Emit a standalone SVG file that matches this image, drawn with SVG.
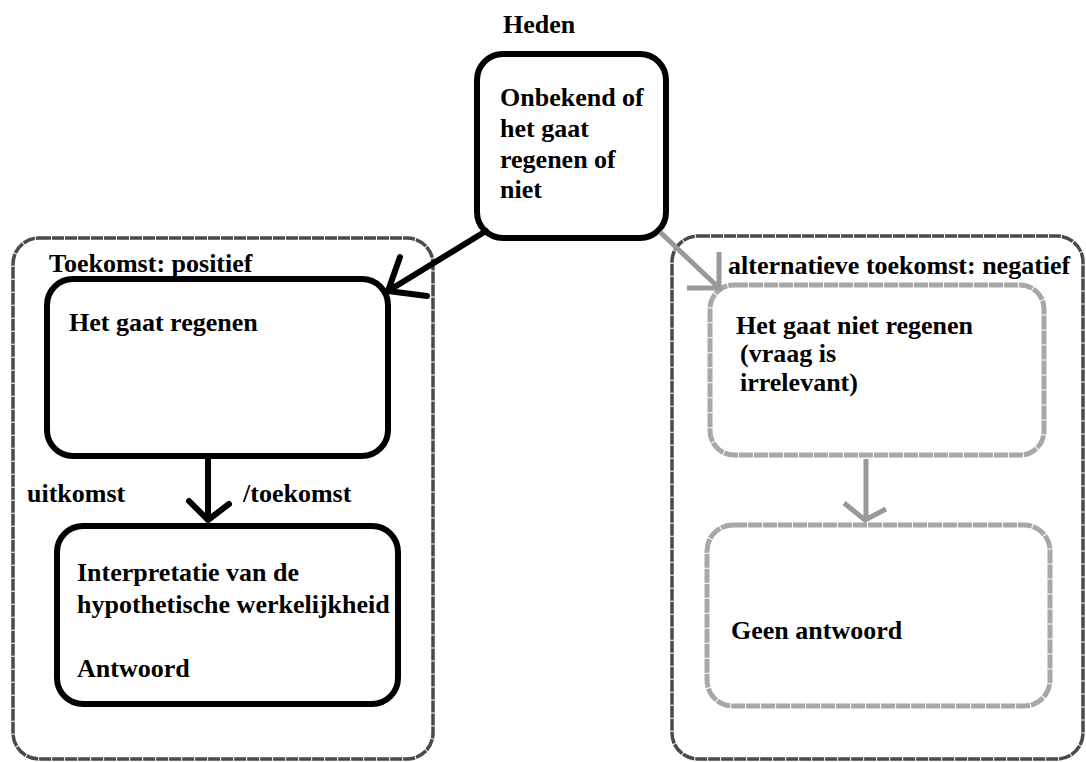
<svg xmlns="http://www.w3.org/2000/svg" width="1086" height="762" viewBox="0 0 1086 762">
<style>
text{font-family:"Liberation Serif","Times New Roman",serif;font-weight:bold;font-size:26px;fill:#000}
.outer{fill:none;stroke:#4a4a4a;stroke-width:3.5;stroke-dasharray:12 1}
.blk{fill:#fff;stroke:#000;stroke-width:6}
.gry{fill:#fff;stroke:#a8a8a8;stroke-width:5;stroke-dasharray:14 1}
.cb{fill:none;stroke:#000;stroke-width:6;stroke-linecap:round;stroke-linejoin:round}
.cg{fill:none;stroke:#999;stroke-width:5;stroke-linecap:butt}
</style>
<rect width="1086" height="762" fill="#fff"/>
<g id="container-left">
<rect class="outer" x="13" y="238" width="420" height="521" rx="26"/>
<text x="49" y="272">Toekomst: positief</text>
</g>
<g id="container-right">
<rect class="outer" x="672" y="236" width="411" height="523" rx="26"/>
<text x="728" y="274">alternatieve toekomst: negatief</text>
</g>
<g id="heden">
<text x="503" y="33">Heden</text>
<rect class="blk" x="477" y="54" width="189" height="184" rx="26"/>
<text x="500" y="106">Onbekend of</text>
<text x="500" y="137">het gaat</text>
<text x="500" y="168">regenen of</text>
<text x="500" y="198">niet</text>
</g>
<g id="regenen">
<rect class="blk" x="47" y="279" width="341" height="177" rx="26"/>
<text x="69" y="331">Het gaat regenen</text>
</g>
<g id="antwoord">
<rect class="blk" x="57" y="526" width="341" height="178" rx="26"/>
<text x="77" y="581">Interpretatie van de</text>
<text x="77" y="613">hypothetische werkelijkheid</text>
<text x="77" y="677">Antwoord</text>
</g>
<g id="niet-regenen">
<rect class="gry" x="710" y="285" width="334" height="170" rx="24"/>
<text x="736" y="334">Het gaat niet regenen</text>
<text x="740" y="362">(vraag is</text>
<text x="740" y="391">irrelevant)</text>
</g>
<g id="geen-antwoord">
<rect class="gry" x="707" y="525" width="343" height="181" rx="26"/>
<text x="731" y="639">Geen antwoord</text>
</g>
<g id="connectors">
<path class="cb" d="M486 231 L388 291 M400 257 L388 291 L427 296"/>
<path class="cb" d="M208 457 L208 520 M189 501 L208 520 L229 504"/>
<text x="27" y="502">uitkomst</text>
<text x="243" y="502">/toekomst</text>
<path class="cg" d="M660 232 L717 286 M719 252 L719 288 L687 288"/>
<path class="cg" d="M866 459 L866 520 M844 503 L865 520 L886 509"/>
</g>
</svg>
